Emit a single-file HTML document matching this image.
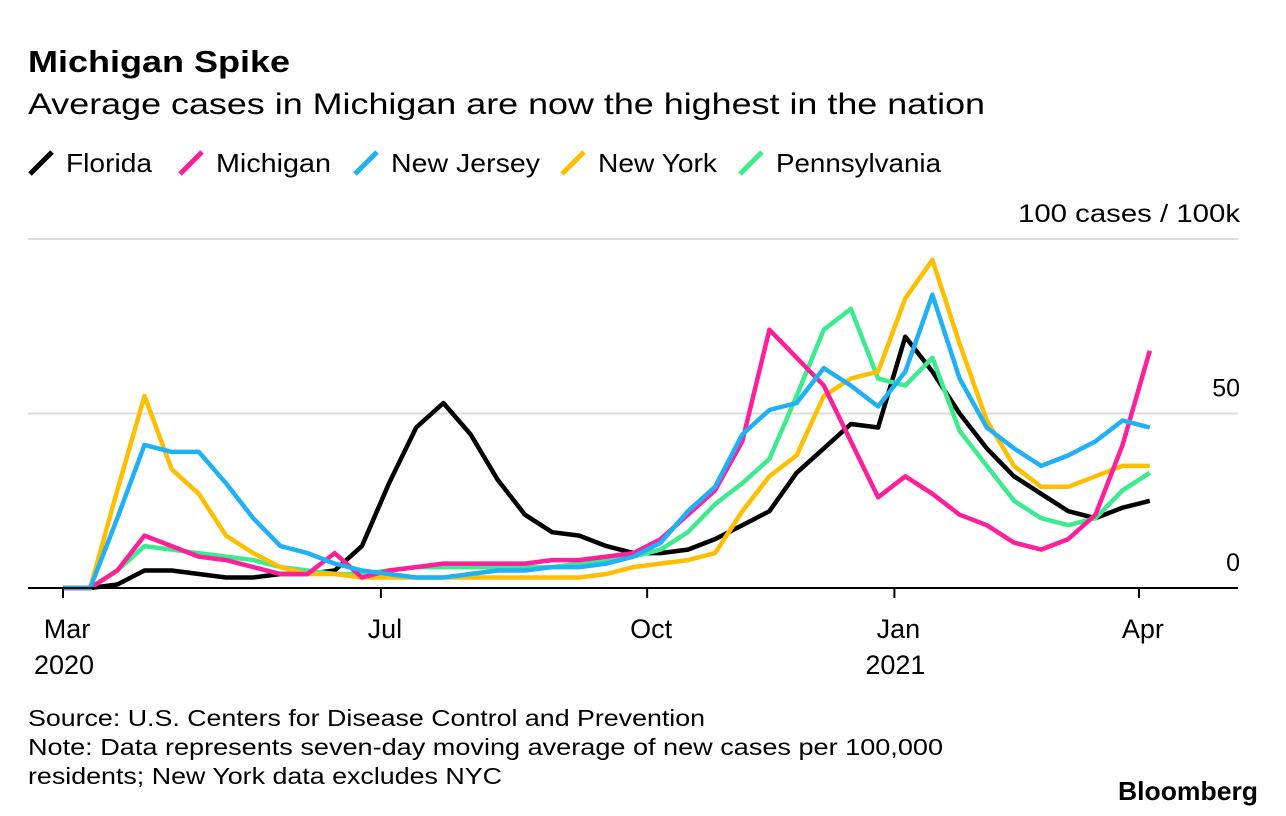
<!DOCTYPE html>
<html><head><meta charset="utf-8"><style>
body{margin:0;background:#fff;width:1286px;height:816px;overflow:hidden;font-family:"Liberation Sans",Arial,sans-serif;color:#000}
</style></head><body>
<svg width="1286" height="816" style="position:absolute;left:0;top:0">
<text x="28" y="72" font-size="31" font-weight="bold" textLength="262" lengthAdjust="spacingAndGlyphs">Michigan Spike</text>
<text x="28" y="114" font-size="30" textLength="957" lengthAdjust="spacingAndGlyphs">Average cases in Michigan are now the highest in the nation</text>
<g id="legend"></g>
<g id="grid"></g>
<g id="lines"></g>
<g id="axis"></g>
<text x="28" y="726" font-size="23" textLength="677" lengthAdjust="spacingAndGlyphs">Source: U.S. Centers for Disease Control and Prevention</text>
<text x="28" y="755" font-size="23" textLength="915" lengthAdjust="spacingAndGlyphs">Note: Data represents seven-day moving average of new cases per 100,000</text>
<text x="28" y="784" font-size="23" textLength="474" lengthAdjust="spacingAndGlyphs">residents; New York data excludes NYC</text>
<text x="1118" y="800" font-size="26" font-weight="bold" textLength="140" lengthAdjust="spacingAndGlyphs">Bloomberg</text>
</svg>
<script>
const days=[0,10,20,30,40,50,60,70,80,90,100,110,120,130,140,150,160,170,180,190,200,210,220,230,240,250,260,270,280,290,300,310,320,330,340,350,360,370,380,390,400];
const florida=[0,0,1,5,5,4,3,3,4,4,5,12,30,46,53,44,31,21,16,15,12,10,10,11,14,18,22,33,40,47,46,72,62,50,40,32,27,22,20,23,25];
const michigan=[0,0,5,15,12,9,8,6,4,4,10,3,5,6,7,7,7,7,8,8,9,10,14,21,28,42,74,66,58,42,26,32,27,21,18,13,11,14,21,41,68];
const newJersey=[0,0,20,41,39,39,30,20,12,10,7,5,4,3,3,4,5,5,6,6,7,9,13,22,29,44,51,53,63,58,52,62,84,60,46,40,35,38,42,48,46];
const newYork=[0,0,28,55,34,27,15,10,6,4,4,3,3,3,3,3,3,3,3,3,4,6,7,8,10,22,32,38,55,60,62,83,94,70,48,35,29,29,32,35,35];
const pennsylvania=[0,0,5,12,11,10,9,8,6,5,4,4,5,6,6,6,6,6,6,7,8,9,11,16,24,30,37,55,74,80,60,58,66,45,35,25,20,18,20,28,33];
const seriesNames=["Florida","Michigan","New Jersey","New York","Pennsylvania"];
const seriesColors=["#000000","#ff1f9a","#1fb0f5","#ffbf00","#3deb8f"];
const yTicks=[0,50,100];
const xTickDays=[0,117,215,306,396];
const xTickLabels=["Mar","Jul","Oct","Jan","Apr"];
const xYearLabels=["2020","","","2021",""];
const X=d=>63+d*2.717, Y=v=>588-v*3.49;
const NS="http://www.w3.org/2000/svg";
function mk(t,a,p){const e=document.createElementNS(NS,t);for(const k in a)e.setAttribute(k,a[k]);p.appendChild(e);return e;}
const grid=document.getElementById('grid'),lines=document.getElementById('lines'),axis=document.getElementById('axis'),legend=document.getElementById('legend');
yTicks.forEach(v=>{
 if(v>0){const l=mk('line',{x1:28,x2:1238,y1:Y(v),y2:Y(v),stroke:'#ddd','stroke-width':2},grid);
 
 }
 const a={x:1240,y:Y(v)-17,'font-size':25,'text-anchor':'end'};
 if(v===100){a.textLength=222;a.lengthAdjust='spacingAndGlyphs';}
 const t=mk('text',a,grid);
 t.textContent=v===100?'100 cases / 100k':String(v);
 
 
});
const base=mk('line',{x1:28,x2:1238,y1:588,y2:588,stroke:'#000','stroke-width':2},axis);


xTickDays.forEach((d,i)=>{
 const tk=mk('line',{x1:X(d),x2:X(d),y1:588,y2:598,stroke:'#000','stroke-width':2},axis);
 
 
 const t=mk('text',{x:X(d)+4,y:638,'font-size':27,'text-anchor':'middle'},axis);
 t.textContent=xTickLabels[i];
 
 
 if(xYearLabels[i]){const y=mk('text',{x:X(d)+1,y:674,'font-size':27,'text-anchor':'middle'},axis);
 y.textContent=xYearLabels[i];
 
 }
});
const allSeries=[florida,michigan,newJersey,newYork,pennsylvania];
const order=[0,4,3,1,2];
order.forEach(i=>{
 const pts=days.map((d,j)=>X(d).toFixed(1)+','+Y(allSeries[i][j]).toFixed(1)).join(' ');
 const p=mk('polyline',{points:pts,fill:'none',stroke:seriesColors[i],'stroke-width':4.5,'stroke-linejoin':'round'},lines);
 
 
});
const lx=[30,180,355,562,740];
const lw=[86,115,149,119,165];
seriesNames.forEach((n,i)=>{
 const ic=mk('line',{x1:lx[i],y1:174,x2:lx[i]+22,y2:152,stroke:seriesColors[i],'stroke-width':5},legend);
 
 
 const t=mk('text',{x:lx[i]+36,y:172,'font-size':26,textLength:lw[i],lengthAdjust:'spacingAndGlyphs'},legend);
 t.textContent=n;
 
 
});
</script>
</body></html>
